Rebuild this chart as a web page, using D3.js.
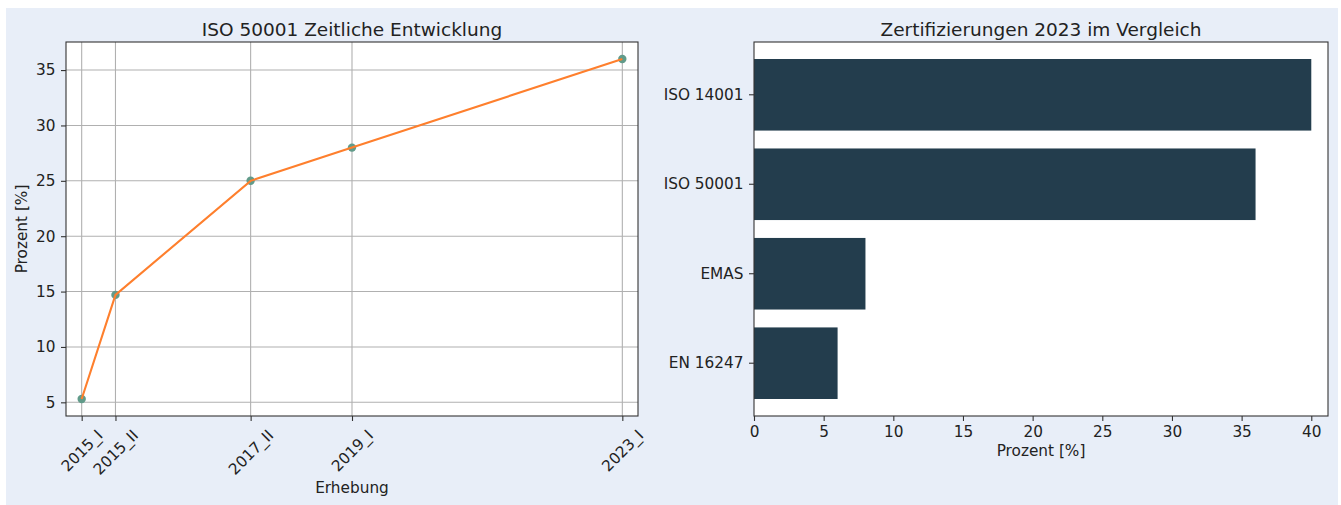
<!DOCTYPE html>
<html>
<head>
<meta charset="utf-8">
<script src="https://cdn.jsdelivr.net/npm/d3@7"></script>
<style>
  html, body { margin: 0; padding: 0; background: #fff; }
  svg { display: block; font-family: "DejaVu Sans", sans-serif; }
</style>
</head>
<body>
<svg id="chart" width="1341" height="505"></svg>
<script>
// Left: ISO 50001 over time
const surveys = ["2015_I", "2015_II", "2017_II", "2019_I", "2023_I"];
const surveyPos = [2015, 2015.5, 2017.5, 2019, 2023];   // position on the time axis
const iso50001Share = [5.3, 14.7, 25, 28, 36];
const lineTicksY = [5, 10, 15, 20, 25, 30, 35];

// Right: certifications 2023 (bottom to top, as drawn by barh)
const certNames = ["EN 16247", "EMAS", "ISO 50001", "ISO 14001"];
const certShare = [6, 8, 36, 40];
const barTicksX = [0, 5, 10, 15, 20, 25, 30, 35, 40];

const colors = { line: "#fe7f2d", marker: "#619b8a", bar: "#233d4d", grid: "#b0b0b0", spine: "#333" };
const fontFamily = '"DejaVu Sans", sans-serif';
const tickFont = 15.3, titleFont = 18.5, tickLen = 5, tickPad = 5.5;

const svg = d3.select("#chart");
svg.append("rect").attr("x", 6).attr("y", 8).attr("width", 1332).attr("height", 497).attr("fill", "#e8eef8");

function frame(g, w, h) {
  g.append("rect").attr("width", w).attr("height", h).attr("fill", "#fff");
}
function spines(g, w, h) {
  g.append("rect").attr("width", w).attr("height", h)
    .attr("fill", "none").attr("stroke", colors.spine).attr("stroke-width", 1.1);
}
function styleAxis(sel) {
  sel.attr("font-family", fontFamily).attr("font-size", tickFont + "px");
  sel.select(".domain").remove();
  sel.selectAll(".tick line").attr("stroke", colors.spine).attr("stroke-width", 1.1);
  sel.selectAll(".tick text").attr("fill", "#222");
}

// ---------- left panel ----------
{
  const L = { x: 66, y: 42, w: 572, h: 374 };
  const g = svg.append("g").attr("transform", `translate(${L.x},${L.y})`);
  frame(g, L.w, L.h);

  const span = d3.max(surveyPos) - d3.min(surveyPos);
  const padX = span * 0.029;
  const x = d3.scaleLinear().domain([d3.min(surveyPos) - padX, d3.max(surveyPos) + padX]).range([0, L.w]);
  const yLo = d3.min(iso50001Share), yHi = d3.max(iso50001Share), padY = (yHi - yLo) * 0.05;
  const y = d3.scaleLinear().domain([yLo - padY, yHi + padY]).range([L.h, 0]);

  // grid
  g.append("g").selectAll("line").data(lineTicksY).join("line")
    .attr("x1", 0).attr("x2", L.w).attr("y1", d => y(d)).attr("y2", d => y(d))
    .attr("stroke", colors.grid).attr("stroke-width", 1.1);
  g.append("g").selectAll("line").data(surveyPos).join("line")
    .attr("y1", 0).attr("y2", L.h).attr("x1", d => x(d)).attr("x2", d => x(d))
    .attr("stroke", colors.grid).attr("stroke-width", 1.1);

  // markers first, line on top
  const pts = surveyPos.map((p, i) => [p, iso50001Share[i]]);
  g.append("g").selectAll("circle").data(pts).join("circle")
    .attr("cx", d => x(d[0])).attr("cy", d => y(d[1])).attr("r", 4.2)
    .attr("fill", colors.marker);
  g.append("path").datum(pts)
    .attr("d", d3.line().x(d => x(d[0])).y(d => y(d[1])))
    .attr("fill", "none").attr("stroke", colors.line).attr("stroke-width", 2.1);

  spines(g, L.w, L.h);

  g.append("g")
    .call(d3.axisLeft(y).tickValues(lineTicksY).tickSize(tickLen).tickPadding(tickPad))
    .call(styleAxis);

  const xa = g.append("g").attr("transform", `translate(0,${L.h})`)
    .call(d3.axisBottom(x).tickValues(surveyPos).tickSize(tickLen).tickFormat((d, i) => surveys[i]))
    .call(styleAxis);
  // rotate 45deg, centre the rotated box under the tick (matplotlib ha="center")
  xa.selectAll(".tick text").each(function () {
    const t = d3.select(this);
    const w = this.getComputedTextLength();
    const hgt = tickFont * 1.16;
    const side = (w + hgt) / Math.SQRT2;
    t.attr("y", null).attr("dy", null)
      .attr("text-anchor", "middle").attr("dominant-baseline", "central")
      .attr("transform", `translate(0,${tickLen + tickPad + side / 2}) rotate(-45)`);
  });

  g.append("text").attr("x", L.w / 2).attr("y", -6.5).attr("text-anchor", "middle")
    .attr("font-size", titleFont + "px").attr("fill", "#222").text("ISO 50001 Zeitliche Entwicklung");
  g.append("text").attr("x", L.w / 2).attr("y", L.h + 77).attr("text-anchor", "middle")
    .attr("font-size", tickFont + "px").attr("fill", "#222").text("Erhebung");
  g.append("text").attr("transform", `translate(${22 - L.x},${L.h / 2}) rotate(-90)`)
    .attr("text-anchor", "middle").attr("dominant-baseline", "central")
    .attr("font-size", tickFont + "px").attr("fill", "#222").text("Prozent [%]");
}

// ---------- right panel ----------
{
  const R = { x: 754, y: 42, w: 574, h: 374 };
  const g = svg.append("g").attr("transform", `translate(${R.x},${R.y})`);
  frame(g, R.w, R.h);

  const x = d3.scaleLinear().domain([0, 41.2]).range([0, R.w]);
  const y = d3.scaleBand().domain(certNames.slice().reverse()).range([0, R.h])
    .paddingInner(0.2).paddingOuter(0.19);

  g.append("g").selectAll("rect").data(certNames).join("rect")
    .attr("x", x(0)).attr("y", d => y(d))
    .attr("width", (d, i) => x(certShare[i]) - x(0)).attr("height", y.bandwidth())
    .attr("fill", colors.bar);

  spines(g, R.w, R.h);

  g.append("g")
    .call(d3.axisLeft(y).tickSize(tickLen).tickPadding(tickPad))
    .call(styleAxis);
  g.append("g").attr("transform", `translate(0,${R.h})`)
    .call(d3.axisBottom(x).tickValues(barTicksX).tickSize(tickLen).tickPadding(tickPad))
    .call(styleAxis);

  g.append("text").attr("x", R.w / 2).attr("y", -6.5).attr("text-anchor", "middle")
    .attr("font-size", titleFont + "px").attr("fill", "#222").text("Zertifizierungen 2023 im Vergleich");
  g.append("text").attr("x", R.w / 2).attr("y", R.h + 40).attr("text-anchor", "middle")
    .attr("font-size", tickFont + "px").attr("fill", "#222").text("Prozent [%]");
}
</script>
</body>
</html>
